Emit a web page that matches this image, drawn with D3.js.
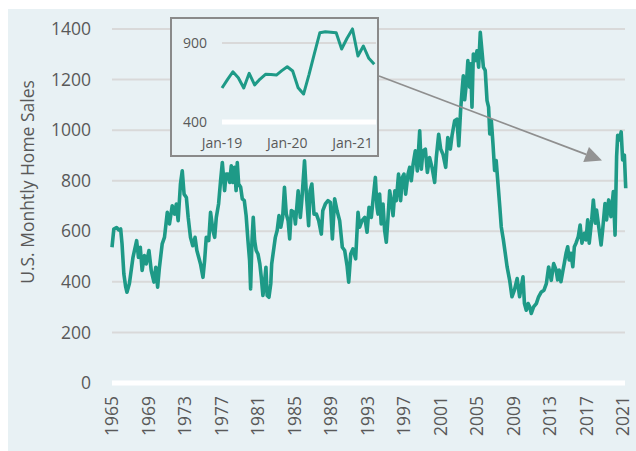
<!DOCTYPE html>
<html>
<head>
<meta charset="utf-8">
<script src="https://cdn.jsdelivr.net/npm/d3@7"></script>
<style>
  html, body { margin: 0; padding: 0; background: #fff; }
  text { font-family: "Open Sans", sans-serif; fill: #595959; }
</style>
</head>
<body>
<svg id="chart"></svg>
<script>
// monthly home sales (thousands); time as decimal year
var mainYears = [
  1965.0, 1965.2, 1965.5, 1965.75, 1965.95, 1966.1, 1966.3, 1966.5, 1966.64, 1966.9,
  1967.3, 1967.7, 1967.9, 1968.1, 1968.3, 1968.55, 1968.75, 1969.05, 1969.3, 1969.6,
  1969.8, 1970.0, 1970.2, 1970.5, 1970.75, 1971.06, 1971.3, 1971.6, 1971.85, 1972.05,
  1972.25, 1972.5, 1972.7, 1972.9, 1973.15, 1973.35, 1973.6, 1973.85, 1974.1, 1974.3,
  1974.7, 1974.97, 1975.15, 1975.33, 1975.6, 1975.8, 1976.06, 1976.25, 1976.43, 1976.68,
  1976.9, 1977.09, 1977.34, 1977.5, 1977.7, 1977.9, 1978.07, 1978.25, 1978.44, 1978.6,
  1978.73, 1978.88, 1979.1, 1979.28, 1979.5, 1979.7, 1979.9, 1980.08, 1980.19, 1980.34,
  1980.48, 1980.63, 1980.8, 1981.0, 1981.2, 1981.36, 1981.54, 1981.7, 1981.87, 1982.0,
  1982.2, 1982.4, 1982.5, 1982.75, 1982.9, 1983.1, 1983.3, 1983.5, 1983.7, 1983.9,
  1984.1, 1984.3, 1984.47, 1984.65, 1984.95, 1985.1, 1985.4, 1985.64, 1985.8, 1986.1,
  1986.3, 1986.55, 1986.7, 1986.9, 1987.14, 1987.4, 1987.65, 1987.94, 1988.1, 1988.38,
  1988.67, 1988.93, 1989.15, 1989.4, 1989.66, 1989.95, 1990.24, 1990.5, 1990.76, 1990.94,
  1991.16, 1991.4, 1991.7, 1991.96, 1992.14, 1992.4, 1992.7, 1992.95, 1993.17, 1993.42,
  1993.6, 1993.86, 1994.04, 1994.15, 1994.33, 1994.5, 1994.7, 1994.88, 1995.06, 1995.25,
  1995.43, 1995.6, 1995.8, 1996.0, 1996.16, 1996.4, 1996.63, 1996.82, 1997.0, 1997.18,
  1997.44, 1997.62, 1997.8, 1998.0, 1998.24, 1998.46, 1998.72, 1998.9, 1999.08, 1999.34,
  1999.56, 1999.8, 2000.07, 2000.36, 2000.54, 2000.8, 2001.02, 2001.27, 2001.57, 2001.8,
  2002.08, 2002.26, 2002.55, 2002.8, 2003.0, 2003.2, 2003.36, 2003.5, 2003.65, 2003.85,
  2004.0, 2004.2, 2004.3, 2004.45, 2004.6, 2004.8, 2005.0, 2005.18, 2005.36, 2005.54,
  2005.7, 2005.9, 2006.1, 2006.27, 2006.4, 2006.57, 2006.75, 2006.93, 2007.1, 2007.3,
  2007.5, 2007.66, 2007.9, 2008.1, 2008.3, 2008.58, 2008.83, 2009.1, 2009.4, 2009.67,
  2009.85, 2010.04, 2010.2, 2010.4, 2010.6, 2010.77, 2010.95, 2011.2, 2011.5, 2011.75,
  2012.05, 2012.34, 2012.6, 2012.85, 2013.14, 2013.4, 2013.66, 2013.84, 2014.0, 2014.2,
  2014.4, 2014.57, 2014.76, 2014.94, 2015.1, 2015.3, 2015.5, 2015.67, 2015.85, 2016.1,
  2016.3, 2016.5, 2016.77, 2016.95, 2017.13, 2017.3, 2017.57, 2017.75, 2017.97, 2018.1,
  2018.34, 2018.6, 2018.77, 2019.03, 2019.2, 2019.43, 2019.68, 2019.94, 2020.13, 2020.3,
  2020.42, 2020.6, 2020.8, 2020.96, 2021.15, 2021.3
];
var mainSales = [
  537, 609, 615, 605, 609, 550, 431, 380, 359, 392,
  497, 563, 497, 537, 445, 504, 471, 524, 445, 399,
  458, 379, 458, 550, 576, 675, 629, 701, 668, 708,
  642, 787, 839, 747, 734, 655, 576, 543, 576, 524,
  471, 418, 484, 576, 563, 675, 603, 576, 655, 708,
  800, 872, 761, 826, 826, 793, 859, 793, 853, 761,
  872, 787, 774, 728, 721, 662, 563, 484, 372, 563,
  655, 563, 524, 510, 471, 418, 346, 392, 458, 346,
  339, 392, 471, 537, 576, 603, 662, 616, 655, 774,
  668, 642, 570, 682, 675, 629, 760, 655, 721, 879,
  747, 622, 760, 787, 668, 668, 642, 589, 682, 708,
  721, 714, 570, 728, 682, 642, 537, 524, 464, 399,
  510, 530, 491, 675, 616, 642, 655, 596, 695, 655,
  721, 813, 695, 668, 747, 629, 708, 603, 557, 655,
  760, 721, 662, 760, 721, 826, 721, 813, 826, 747,
  826, 853, 800, 866, 918, 839, 997, 846, 918, 925,
  833, 892, 853, 793, 892, 984, 925, 905, 853, 971,
  925, 978, 1037, 1043, 938, 1076, 1155, 1215, 1120, 1190,
  1275, 1170, 1262, 1091, 1301, 1275, 1314, 1249, 1387, 1314,
  1249, 1236, 1117, 1091, 985, 1038, 946, 841, 880, 788,
  696, 617, 564, 512, 459, 406, 341, 367, 413, 341,
  380, 420, 314, 288, 314, 301, 275, 301, 314, 341,
  360, 367, 393, 459, 406, 472, 447, 408, 447, 401,
  441, 474, 513, 539, 487, 513, 460, 539, 553, 579,
  625, 553, 592, 566, 645, 553, 645, 724, 632, 684,
  618, 546, 605, 710, 645, 724, 658, 757, 585, 895,
  980, 961, 993, 882, 901, 770
];
var yTicks = [0, 200, 400, 600, 800, 1000, 1200, 1400];
var xTicks = d3.range(1965, 2022, 4);

// inset: Jan-19 .. May-21
var insetMonths = d3.range(0, 29);
var insetSales = [
  615, 668, 718, 680, 615, 708, 635, 672, 702, 700,
  697, 725, 750, 723, 617, 577, 700, 835, 965, 971,
  968, 965, 862, 930, 989, 818, 881, 803, 765
];
var insetTickMonths = [0, 12, 24];
var insetTickLabels = ["Jan-19", "Jan-20", "Jan-21"];
var insetYTicks = [400, 900];

var width = 636, height = 451;
var teal = "#1e9a87";

var svg = d3.select("#chart")
    .attr("width", width)
    .attr("height", height);

// panel background
svg.append("rect")
    .attr("x", 8).attr("y", 9)
    .attr("width", width - 8).attr("height", height - 9)
    .attr("fill", "#e8f1f4");

var x = d3.scaleLinear().domain([1965, 2021]).range([112, 623]);
var y = d3.scaleLinear().domain([0, 1400]).range([383, 29]);
var gridRight = 625;

// gridlines
svg.append("g").selectAll("line")
    .data(yTicks.filter(function(d) { return d > 0; }))
    .enter().append("line")
    .attr("x1", x(1965)).attr("x2", gridRight)
    .attr("y1", function(d) { return y(d); })
    .attr("y2", function(d) { return y(d); })
    .attr("stroke", "#d9d9d9")
    .attr("stroke-width", 2);

// zero line
svg.append("line")
    .attr("x1", x(1965)).attr("x2", gridRight)
    .attr("y1", y(0)).attr("y2", y(0))
    .attr("stroke", "#fff")
    .attr("stroke-width", 5);

// y axis labels
var yAxis = svg.append("g")
    .attr("transform", "translate(97,0)")
    .call(d3.axisLeft(y).tickValues(yTicks).tickFormat(d3.format("d")).tickSize(0).tickPadding(6));
yAxis.select(".domain").remove();
yAxis.selectAll("text")
    .attr("font-size", "17.5px")
    .attr("font-family", null)
    .attr("fill", null);

// x axis labels (rotated)
svg.append("g").selectAll("text")
    .data(xTicks)
    .enter().append("text")
    .attr("transform", function(d) { return "translate(" + x(d) + ",396) rotate(-90)"; })
    .attr("text-anchor", "end")
    .attr("dy", "0.35em")
    .attr("font-size", "17.5px")
    .text(function(d) { return d; });

// axis title
svg.append("text")
    .attr("transform", "translate(34,182) rotate(-90)")
    .attr("text-anchor", "middle")
    .attr("font-size", "17.5px")
    .text("U.S. Monhtly Home Sales");

// main line
var mainData = mainYears.map(function(d, i) { return {t: d, v: mainSales[i]}; });
var line = d3.line()
    .x(function(d) { return x(d.t); })
    .y(function(d) { return y(d.v); });

svg.append("path")
    .datum(mainData)
    .attr("d", line)
    .attr("fill", "none")
    .attr("stroke", teal)
    .attr("stroke-width", 3.6)
    .attr("stroke-linejoin", "round");

// arrow from inset to the latest data
var arrowStart = [379, 76];
var arrowTip = [x(2018.7), y(880)];
var ang = Math.atan2(arrowTip[1] - arrowStart[1], arrowTip[0] - arrowStart[0]);
var headLen = 17, headHalf = 8;
var base = [arrowTip[0] - headLen * Math.cos(ang), arrowTip[1] - headLen * Math.sin(ang)];
svg.append("line")
    .attr("x1", arrowStart[0]).attr("y1", arrowStart[1])
    .attr("x2", base[0]).attr("y2", base[1])
    .attr("stroke", "#8f8f8f")
    .attr("stroke-width", 1.8);
svg.append("polygon")
    .attr("points", [
        arrowTip,
        [base[0] + headHalf * Math.sin(ang), base[1] - headHalf * Math.cos(ang)],
        [base[0] - headHalf * Math.sin(ang), base[1] + headHalf * Math.cos(ang)]
    ].map(function(p) { return p.join(","); }).join(" "))
    .attr("fill", "#939393");

// inset
var inset = svg.append("g");
inset.append("rect")
    .attr("x", 171).attr("y", 18)
    .attr("width", 207).attr("height", 138)
    .attr("fill", "#e8f1f4")
    .attr("stroke", "#8a8a8a")
    .attr("stroke-width", 2);

var ix = d3.scaleLinear().domain([0, 24]).range([222, 352.5]);
var iy = d3.scaleLinear().domain([400, 900]).range([122, 43]);
var insetRight = 376;

inset.append("line")
    .attr("x1", ix(0)).attr("x2", insetRight)
    .attr("y1", iy(900)).attr("y2", iy(900))
    .attr("stroke", "#d9d9d9").attr("stroke-width", 2);
inset.append("line")
    .attr("x1", ix(0)).attr("x2", insetRight)
    .attr("y1", iy(400)).attr("y2", iy(400))
    .attr("stroke", "#fff").attr("stroke-width", 5);

inset.selectAll(".iy")
    .data(insetYTicks)
    .enter().append("text")
    .attr("class", "iy")
    .attr("x", 207)
    .attr("y", function(d) { return iy(d); })
    .attr("dy", "0.35em")
    .attr("text-anchor", "end")
    .attr("font-size", "14px")
    .text(function(d) { return d; });

inset.selectAll(".ix")
    .data(insetTickMonths)
    .enter().append("text")
    .attr("class", "ix")
    .attr("x", function(d) { return ix(d); })
    .attr("y", 148)
    .attr("text-anchor", "middle")
    .attr("font-size", "14px")
    .text(function(d, i) { return insetTickLabels[i]; });

var insetData = insetMonths.map(function(m, i) { return {m: m, v: insetSales[i]}; });
inset.append("path")
    .datum(insetData)
    .attr("d", d3.line()
        .x(function(d) { return ix(d.m); })
        .y(function(d) { return iy(d.v); }))
    .attr("fill", "none")
    .attr("stroke", teal)
    .attr("stroke-width", 3)
    .attr("stroke-linejoin", "round");
</script>
</body>
</html>
